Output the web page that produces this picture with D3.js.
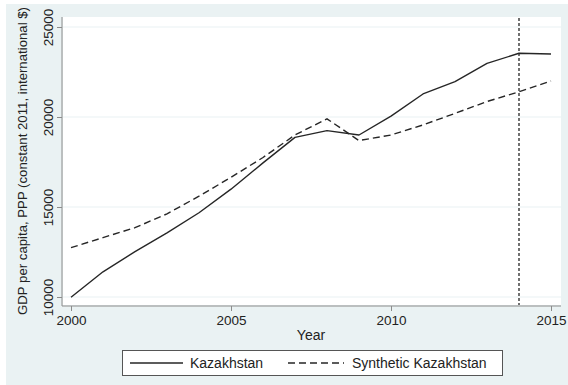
<!DOCTYPE html>
<html>
<head>
<meta charset="utf-8">
<script src="https://cdn.jsdelivr.net/npm/d3@7"></script>
<style>
  html, body { margin: 0; padding: 0; background: #ffffff; }
  svg { display: block; font-family: "Liberation Sans", Arial, sans-serif; }
</style>
</head>
<body>
<svg id="chart" width="568" height="385"></svg>
<script>
// GDP per capita, Kazakhstan vs. its synthetic control
const years = [2000, 2001, 2002, 2003, 2004, 2005, 2006, 2007, 2008, 2009, 2010, 2011, 2012, 2013, 2014, 2015];
const kazakhstan = [9990, 11400, 12520, 13560, 14680, 15990, 17450, 18870, 19240, 19000, 20050, 21280, 21960, 22980, 23540, 23500];
const synthetic = [12740, 13300, 13850, 14620, 15600, 16650, 17750, 19000, 19900, 18690, 19000, 19560, 20200, 20860, 21400, 22000];
const yTicks = [10000, 15000, 20000, 25000];
const xTicks = [2000, 2005, 2010, 2015];
const treatmentYear = 2014;
const seriesNames = ["Kazakhstan", "Synthetic Kazakhstan"];

const svg = d3.select("#chart");
const bg = "#eaf2f3";
const ink = "#262626";
const axisCol = "#8c8c8c";

// outer graph region
svg.append("rect").attr("x", 6).attr("y", 4).attr("width", 562).attr("height", 381).attr("fill", bg);

const plot = { left: 63, top: 17, right: 561, bottom: 305 };
svg.append("rect")
  .attr("x", plot.left).attr("y", plot.top)
  .attr("width", plot.right - plot.left).attr("height", plot.bottom - plot.top)
  .attr("fill", "#ffffff");

const x = d3.scaleLinear().domain([2000, 2015]).range([71, 551]);
const y = d3.scaleLinear().domain([10000, 25000]).range([297, 27]);

// horizontal gridlines
svg.append("g").selectAll("line").data(yTicks).join("line")
  .attr("x1", plot.left).attr("x2", plot.right)
  .attr("y1", d => y(d)).attr("y2", d => y(d))
  .attr("stroke", bg).attr("stroke-width", 1.2);

// y axis, labels turned upright along the axis
const yAxis = svg.append("g")
  .attr("transform", `translate(62,0)`)
  .call(d3.axisLeft(y).tickValues(yTicks).tickSize(5).tickPadding(4).tickFormat(d3.format("d")));
yAxis.select(".domain").attr("d", `M0,${plot.top}V306`);
yAxis.selectAll("line").attr("stroke", axisCol);
yAxis.select(".domain").attr("stroke", axisCol);
yAxis.selectAll(".tick text")
  .attr("font-size", 13.5).attr("fill", "#222")
  .attr("x", 0).attr("y", 0).attr("dy", 0)
  .attr("transform", "translate(-9,0) rotate(-90)")
  .attr("text-anchor", "middle");

// x axis
const xAxis = svg.append("g")
  .attr("transform", `translate(0,306)`)
  .call(d3.axisBottom(x).tickValues(xTicks).tickSize(5).tickPadding(4).tickFormat(d3.format("d")));
xAxis.select(".domain").attr("d", `M62,0H${plot.right}`);
xAxis.selectAll("line").attr("stroke", axisCol);
xAxis.select(".domain").attr("stroke", axisCol);
xAxis.selectAll("text").attr("font-size", 13.5).attr("fill", "#222");

// axis titles
svg.append("text").attr("x", x(2007.5)).attr("y", 340)
  .attr("text-anchor", "middle").attr("font-size", 14).attr("fill", "#222").text("Year");
svg.append("text")
  .attr("transform", `translate(26.5,${(plot.top + plot.bottom) / 2}) rotate(-90)`)
  .attr("text-anchor", "middle").attr("font-size", 13.2).attr("fill", "#222")
  .text("GDP per capita, PPP (constant 2011, international $)");

// series lines
const line = d3.line().x((d, i) => x(years[i])).y(d => y(d));
svg.append("path").datum(kazakhstan).attr("d", line)
  .attr("fill", "none").attr("stroke", ink).attr("stroke-width", 1.4).attr("stroke-linejoin", "round");
svg.append("path").datum(synthetic).attr("d", line)
  .attr("fill", "none").attr("stroke", ink).attr("stroke-width", 1.4).attr("stroke-dasharray", "7,4");

// treatment year marker
svg.append("line")
  .attr("x1", x(treatmentYear)).attr("x2", x(treatmentYear))
  .attr("y1", plot.top + 1).attr("y2", 305)
  .attr("stroke", ink).attr("stroke-width", 1.3).attr("stroke-dasharray", "3,2");

// legend
const lg = svg.append("g");
lg.append("rect").attr("x", 122.5).attr("y", 350.5).attr("width", 380).attr("height", 25)
  .attr("fill", "#ffffff").attr("stroke", "#555").attr("stroke-width", 1);
const items = [
  { name: seriesNames[0], x0: 130, x1: 183, tx: 190, dash: null },
  { name: seriesNames[1], x0: 288, x1: 344, tx: 352, dash: "7,4" }
];
items.forEach(it => {
  lg.append("line").attr("x1", it.x0).attr("x2", it.x1).attr("y1", 363).attr("y2", 363)
    .attr("stroke", ink).attr("stroke-width", 1.4).attr("stroke-dasharray", it.dash);
  lg.append("text").attr("x", it.tx).attr("y", 368).attr("font-size", 14).attr("fill", "#222").text(it.name);
});
</script>
</body>
</html>
